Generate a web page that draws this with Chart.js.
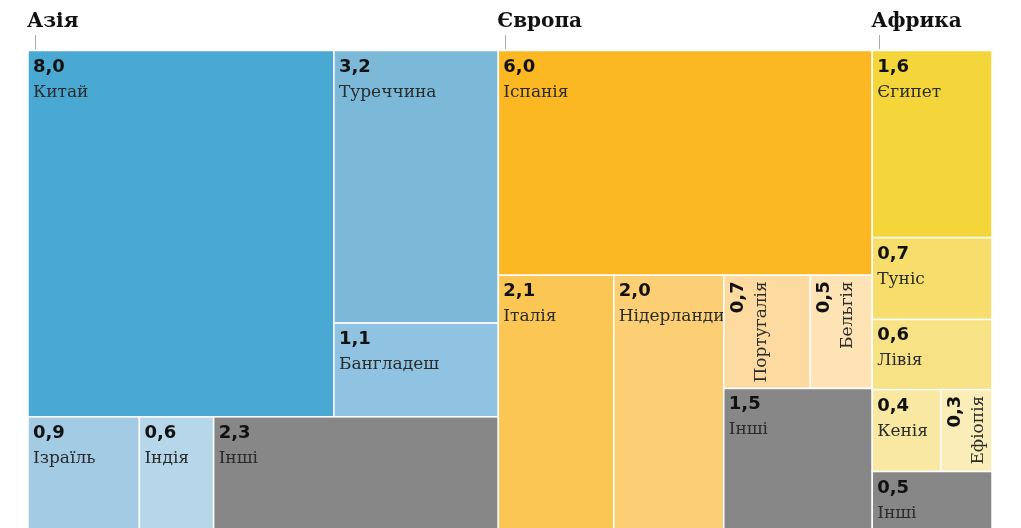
<!DOCTYPE html>
<html>
<head>
<meta charset="utf-8">
<script src="https://cdn.jsdelivr.net/npm/chart.js@4/dist/chart.umd.min.js"></script>
<style>
  body { margin: 0; background: #fff; }
  canvas { display: block; }
</style>
</head>
<body>
<canvas id="treemap" width="1021" height="528"></canvas>
<script>
const regionNames = ['Азія', 'Європа', 'Африка'];

const asiaLabels = ['Китай', 'Туреччина', 'Бангладеш', 'Ізраїль', 'Індія', 'Інші'];
const asiaValues = [8.0, 3.2, 1.1, 0.9, 0.6, 2.3];
const asiaColors = ['#4aa9d2', '#7cb9d9', '#90c3e1', '#a3cbe4', '#b6d6ea', '#878787'];

const europeLabels = ['Іспанія', 'Італія', 'Нідерланди', 'Португалія', 'Бельгія', 'Інші'];
const europeValues = [6.0, 2.1, 2.0, 0.7, 0.5, 1.5];
const europeColors = ['#fbb823', '#fcc654', '#fccf74', '#fddba0', '#fee3b5', '#878787'];

const africaLabels = ['Єгипет', 'Туніс', 'Лівія', 'Кенія', 'Ефіопія', 'Інші'];
const africaValues = [1.6, 0.7, 0.6, 0.4, 0.3, 0.5];
const africaColors = ['#f5d63a', '#f6dd6c', '#f7e386', '#f8e8a1', '#faedb8', '#878787'];

// nesting of the cells: 'h' = side by side, 'v' = stacked
const asiaLayout = ['v', ['h', 0, ['v', 1, 2]], ['h', 3, 4, 5]];
const europeLayout = ['v', 0, ['h', 1, 2, ['v', ['h', 3, 4], 5]]];
const africaLayout = ['v', 0, 1, 2, ['h', 3, 4], 5];

const regions = [
    { name: regionNames[0], labels: asiaLabels, values: asiaValues, colors: asiaColors, tree: asiaLayout },
    { name: regionNames[1], labels: europeLabels, values: europeValues, colors: europeColors, tree: europeLayout },
    { name: regionNames[2], labels: africaLabels, values: africaValues, colors: africaColors, tree: africaLayout },
];

const nodeSum = (node, values) => typeof node === 'number'
    ? values[node]
    : node.slice(1).reduce((s, k) => s + nodeSum(k, values), 0);

function layout(node, values, x, y, w, h, out) {
    if (typeof node === 'number') {
        out.push({ i: node, x, y, w, h });
        return;
    }
    const total = nodeSum(node, values);
    let off = 0;
    node.slice(1).forEach(k => {
        const f = nodeSum(k, values) / total;
        if (node[0] === 'h') layout(k, values, x + off * w, y, f * w, h, out);
        else layout(k, values, x, y + off * h, w, f * h, out);
        off += f;
    });
}

const fmt = v => v.toFixed(1).replace('.', ',');

const NAME_FONT = '17px "DejaVu Serif"';
const VALUE_FONT = 'bold 18px "DejaVu Sans"';

const treemapPlugin = {
    id: 'treemapCells',
    beforeDatasetsDraw(chart) {
        const { ctx, scales: { x: sx, y: sy } } = chart;
        const grand = regions.reduce((s, r) => s + nodeSum(r.tree, r.values), 0);
        let rx = 0;
        ctx.save();
        regions.forEach(r => {
            const rw = nodeSum(r.tree, r.values) / grand;
            const cells = [];
            layout(r.tree, r.values, rx, 0, rw, 1, cells);

            // region title with a small tick
            const left = sx.getPixelForValue(rx);
            ctx.fillStyle = '#111';
            ctx.font = 'bold 20px "DejaVu Serif"';
            ctx.textAlign = 'left';
            ctx.textBaseline = 'alphabetic';
            ctx.fillText(r.name, left - 1, 27);
            ctx.strokeStyle = '#aaa';
            ctx.lineWidth = 1;
            ctx.beginPath();
            ctx.moveTo(Math.round(left) + 7.5, 35);
            ctx.lineTo(Math.round(left) + 7.5, 49);
            ctx.stroke();

            cells.forEach(c => {
                const x0 = sx.getPixelForValue(c.x);
                const x1 = sx.getPixelForValue(c.x + c.w);
                const y0 = sy.getPixelForValue(c.y);
                const y1 = sy.getPixelForValue(c.y + c.h);
                const w = x1 - x0, h = y1 - y0;
                ctx.fillStyle = r.colors[c.i];
                ctx.fillRect(x0, y0, w, h);
                ctx.strokeStyle = '#fff';
                ctx.lineWidth = 1.5;
                ctx.strokeRect(x0, y0, w, h);

                const name = r.labels[c.i];
                const value = fmt(r.values[c.i]);
                ctx.font = NAME_FONT;
                const nameW = ctx.measureText(name).width;
                const vertical = w < 90 && nameW > w - 10;

                ctx.save();
                ctx.translate(x0, y0);
                if (vertical) {
                    ctx.rotate(-Math.PI / 2);
                    ctx.textAlign = 'right';
                    ctx.fillStyle = '#111';
                    ctx.font = VALUE_FONT;
                    ctx.fillText(value, -6, 19);
                    ctx.fillStyle = '#2b2b2b';
                    ctx.font = NAME_FONT;
                    ctx.fillText(name, -6, 42);
                } else {
                    ctx.textAlign = 'left';
                    ctx.fillStyle = '#111';
                    ctx.font = VALUE_FONT;
                    ctx.fillText(value, 5, 21);
                    ctx.fillStyle = '#2b2b2b';
                    ctx.font = NAME_FONT;
                    ctx.fillText(name, 5, 46);
                }
                ctx.restore();
            });
            rx += rw;
        });
        ctx.restore();
    }
};

new Chart(document.getElementById('treemap'), {
    type: 'scatter',
    data: { datasets: [{ data: [] }] },
    options: {
        responsive: false,
        animation: false,
        devicePixelRatio: 1,
        layout: { padding: { left: 28, right: 29, top: 50.5, bottom: 0 } },
        scales: {
            x: { display: false, min: 0, max: 1 },
            y: { display: false, min: 0, max: 477.5 / 479.5, reverse: true },
        },
        plugins: {
            legend: { display: false },
            tooltip: { enabled: false },
        },
    },
    plugins: [treemapPlugin],
});
</script>
</body>
</html>
